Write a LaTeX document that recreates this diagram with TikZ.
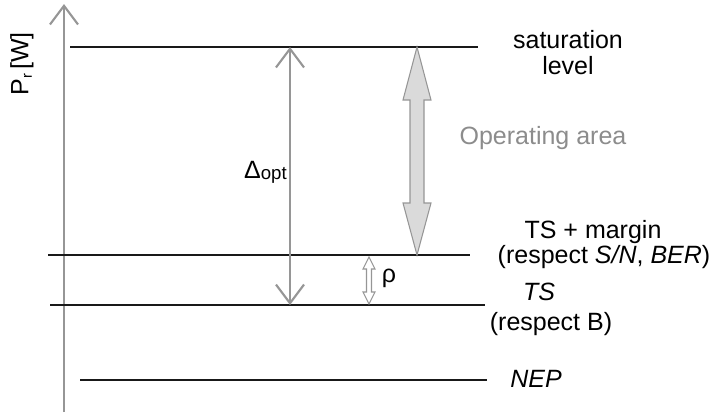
\documentclass[tikz,border=0pt]{standalone}
\usepackage{fontspec}
\setmainfont{Liberation Sans}
\usetikzlibrary{arrows.meta,calc}
\definecolor{axisgray}{RGB}{150,150,150}
\definecolor{areafill}{RGB}{218,218,218}
\definecolor{labelgray}{RGB}{140,140,140}
\begin{document}
\begin{tikzpicture}[x=0.75pt,y=-0.75pt,
  levelline/.style={line width=2pt, black!90},
  txt/.style={font=\fontsize{18.75}{21}\selectfont, inner sep=0pt, anchor=base},
  barb/.style={-{Straight Barb[length=14pt,width=21pt,line width=1.6pt]}},
  fatarrow/.style={draw=axisgray, fill=areafill, line width=0.8pt, line join=miter},
  thinarrow/.style={draw=axisgray, fill=white, line width=0.8pt, line join=miter}]
\useasboundingbox (0,0) rectangle (714,412);

% power axis
\coordinate (axB) at (64,412);
\coordinate (axT) at (64,4);
\draw[axisgray, line width=1.9pt, barb] (axB) -- (axT);
\node[rotate=90, font=\fontsize{18.75}{21}\selectfont, inner sep=0pt] (axlbl) at (22,64)
  {P{\fontsize{11}{11}\selectfont\raisebox{-2.5pt}{r}}\,[W]};

% power levels
\coordinate (satL) at (70,47);   \coordinate (satR) at (478,47);
\coordinate (marL) at (48,255);  \coordinate (marR) at (470,255);
\coordinate (tsL)  at (50,305);  \coordinate (tsR)  at (485,305);
\coordinate (nepL) at (80,380);  \coordinate (nepR) at (487,380);
\draw[levelline] (satL) -- (satR);
\draw[levelline] (marL) -- (marR);
\draw[levelline] (tsL) -- (tsR);
\draw[levelline] (nepL) -- (nepR);

% level labels
\node[txt] (sat1) at (568,48) {saturation};
\node[txt] (sat2) at (568,74) {level};
\node[txt, text=labelgray] (oparea) at (543,144) {Operating area};
\node[txt] (mar1) at (593,238) {TS + margin};
\node[txt] (mar2) at (604,263) {(respect \textit{S/N}, \textit{BER})};
\node[txt] (ts1) at (539,300) {\textit{TS}};
\node[txt] (ts2) at (551,330) {(respect B)};
\node[txt] (nep) at (536,387) {\textit{NEP}};

% optical dynamic range
\coordinate (dT) at (290,47);
\coordinate (dB) at (290,305);
\draw[axisgray, line width=1.6pt, barb] ($(dT)!0.5!(dB)$) -- (dT);
\draw[axisgray, line width=1.6pt, barb] ($(dT)!0.5!(dB)$) -- (dB);
\node[font=\fontsize{18.75}{21}\selectfont, inner sep=0pt, anchor=base east] (dlbl) at (287,178)
  {Δ{\fontsize{14}{14}\selectfont\raisebox{-1pt}{opt}}};

% operating area arrow
\coordinate (oT) at (417,47);
\coordinate (oB) at (417,255);
\draw[fatarrow] (oT) -- ($(oT)+(14,53)$) -- ($(oT)+(7,53)$) -- ($(oB)+(7,-52)$)
  -- ($(oB)+(14,-52)$) -- (oB) -- ($(oB)+(-14,-52)$) -- ($(oB)+(-7,-52)$)
  -- ($(oT)+(-7,53)$) -- ($(oT)+(-14,53)$) -- cycle;

% margin arrow
\coordinate (rT) at (369,257);
\coordinate (rB) at (369,304);
\draw[thinarrow] (rT) -- ($(rT)+(6,12)$) -- ($(rT)+(2.5,12)$) -- ($(rB)+(2.5,-12)$)
  -- ($(rB)+(6,-12)$) -- (rB) -- ($(rB)+(-6,-12)$) -- ($(rB)+(-2.5,-12)$)
  -- ($(rT)+(-2.5,12)$) -- ($(rT)+(-6,12)$) -- cycle;
\node[font=\fontsize{18.75}{21}\selectfont, inner sep=0pt] (rho) at (389,278) {ρ};
\end{tikzpicture}
\end{document}
